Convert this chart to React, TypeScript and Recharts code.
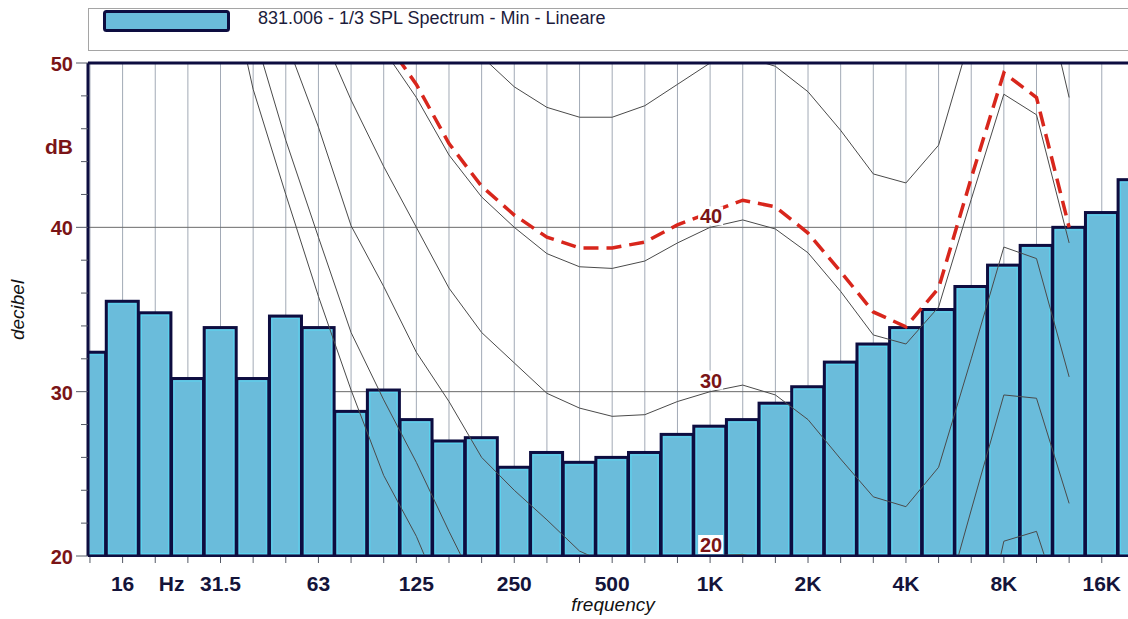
import React from 'react'
import {
  ComposedChart,
  Bar,
  Line,
  XAxis,
  YAxis,
  CartesianGrid,
  ReferenceLine,
  ReferenceDot,
} from 'recharts'

// 1/3 octave bands, 12.5 Hz .. 20 kHz
const bands = ['12.5', '16', '20', '25', '31.5', '40', '50', '63', '80', '100', '125', '160', '200', '250', '315', '400', '500', '630', '800', '1K', '1.25K', '1.6K', '2K', '2.5K', '3.15K', '4K', '5K', '6.3K', '8K', '10K', '12.5K', '16K', '20K']
const bandLabels = ['', '16', '', '', '31.5', '', '', '63', '', '', '125', '', '', '250', '', '', '500', '', '', '1K', '', '', '2K', '', '', '4K', '', '', '8K', '', '', '16K', '']

// measured spectrum (min, linear), dB
const splMin = [32.4, 35.5, 34.8, 30.8, 33.9, 30.8, 34.6, 33.9, 28.8, 30.1, 28.3, 27.0, 27.2, 25.4, 26.3, 25.7, 26.0, 26.3, 27.4, 27.9, 28.3, 29.3, 30.3, 31.8, 32.9, 33.9, 35.0, 36.4, 37.7, 38.9, 40.0, 40.9, 42.9]

// equal loudness contours (values outside 20..50 are estimates, clipped)
const phon0 = [93, 84, 75, 66, 57.3, 48.4, 42.0, 35.8, 30.1, 24.9, 21.2, 16.5, null, null, null, null, null, null, null, null, null, null, null, null, null, null, null, null, null, null, null, null, null]
const phon10 = [87, 80, 73, 66, 59, 52.0, 45.3, 39.4, 33.6, 29.5, 25.7, 21.5, 17.5, null, null, null, null, null, null, null, null, null, null, null, null, null, null, 12, 20.9, 21.5, 15.4, null, null]
const phon20 = [87, 81, 75, 69, 63, 57, 51.4, 46.1, 40.1, 36.4, 32.4, 29.4, 26.0, 24.0, 22.2, 20.3, 19.4, 19.0, 19.4, 20.0, 20.1, 19.6, 18.3, 16.0, 13.6, 13.0, 15.7, 22.8, 29.8, 29.6, 23.2, null, null]
const phon30 = [87, 82, 77, 72, 67, 62, 57, 52.3, 47.75, 43.7, 40.0, 36.3, 33.6, 31.75, 29.9, 29.0, 28.5, 28.6, 29.4, 30.0, 30.4, 29.8, 28.3, 25.9, 23.6, 23.0, 25.4, 32.0, 38.8, 38.1, 30.9, null, null]
const phon40 = [95, 90, 85, 80, 75, 70, 65, 60, 55, 50.8, 47.9, 44.4, 41.85, 40.0, 38.4, 37.6, 37.5, 37.95, 39.05, 40.0, 40.45, 39.9, 38.45, 36.1, 33.45, 32.9, 35.15, 41.7, 48.1, 46.85, 39.05, null, null]
const phon50 = [100, 96, 92, 88, 84, 80, 76, 72, 68, 62, 56, 53, 50.4, 48.55, 47.3, 46.7, 46.7, 47.4, 48.7, 50.0, 50.4, 49.8, 48.25, 45.9, 43.25, 42.7, 45.0, 51.8, 57.6, 56.4, 47.9, null, null]
// contour touching the spectrum (red dashed)
const tangentContour = [null, null, null, null, null, null, null, null, null, 51.5, 48.7, 45.1, 42.5, 40.75, 39.4, 38.75, 38.75, 39.1, 40.15, 40.9, 41.65, 41.25, 39.65, 37.3, 34.85, 33.95, 36.3, 43.0, 49.4, 47.9, 40.0, null, null]

const yTicks = [20, 22, 24, 26, 28, 30, 32, 34, 36, 38, 40, 42, 44, 46, 48, 50]
const gridValues = [30, 40]
const contourTags = [20, 30, 40]
const tagBand = 19
const hzPos = 2.5
const legendText = '831.006 - 1/3 SPL Spectrum - Min - Lineare'

const NAVY = '#0d0d40'
const FILL = '#6abcdb'
const DARK_RED = '#7a1416'
const FONT = '"Liberation Sans", Arial, sans-serif'

const data = bands.map((band, i) => ({
  i,
  band,
  spl: splMin[i],
  p0: phon0[i],
  p10: phon10[i],
  p20: phon20[i],
  p30: phon30[i],
  p40: phon40[i],
  p50: phon50[i],
  tangent: tangentContour[i],
}))

const contourKeys = ['p0', 'p10', 'p20', 'p30', 'p40', 'p50']
const bandTicks = bands.map((_, i) => i)

function XTick({ x, y, payload }: any) {
  const label = bandLabels[payload.value]
  return (
    <g>
      <line x1={x} x2={x} y1={y + 1} y2={y + 7} stroke="#555a66" strokeWidth={1} />
      {label ? (
        <text x={x} y={y + 35} textAnchor="middle" fontSize={21} fontWeight="bold" fill="#14143a" fontFamily={FONT}>
          {label}
        </text>
      ) : null}
    </g>
  )
}

function YTick({ x, y, payload }: any) {
  const major = payload.value % 10 === 0
  return (
    <g>
      <line x1={x - (major ? 12 : 7)} x2={x} y1={y} y2={y} stroke="#555a66" strokeWidth={1} />
      {major ? (
        <text x={x - 15} y={y + 8} textAnchor="end" fontSize={20} fontWeight="bold" fill={DARK_RED} fontFamily={FONT}>
          {payload.value}
        </text>
      ) : null}
    </g>
  )
}

function BandBar({ x, y, width, height }: any) {
  if (!width || !height) return null
  return (
    <g>
      <rect x={x} y={y} width={width} height={height} fill={FILL} stroke={NAVY} strokeWidth={3} />
      <rect x={x + 2.5} y={y + 2.5} width={Math.max(width - 5, 0)} height={Math.max(height - 5, 0)} fill="none" stroke="#5ad4f0" strokeWidth={1} />
    </g>
  )
}

function ContourTag({ cx, cy, text }: any) {
  return (
    <g>
      <rect x={cx - 12} y={cy - 21} width={25} height={19} fill="#ffffff" />
      <text x={cx + 1} y={cy - 4} textAnchor="middle" fontSize={20} fontWeight="bold" fill={DARK_RED} fontFamily={FONT}>
        {text}
      </text>
    </g>
  )
}

export default function App() {
  return (
    <div style={{ position: 'fixed', left: 0, top: 0, width: 1128, height: 619, overflow: 'hidden', background: '#fff', fontFamily: FONT }}>
      <div style={{ position: 'absolute', left: 0, top: 0 }}>
        <ComposedChart width={1164} height={619} data={data} margin={{ top: 63, right: 10, bottom: 0, left: 0 }}>
          <CartesianGrid horizontal={false} stroke="#a2aab6" strokeWidth={1} />
          <CartesianGrid vertical={false} horizontalValues={gridValues} stroke="#6a6a6a" strokeWidth={1} />
          <XAxis
            dataKey="i"
            type="number"
            domain={[-0.06, 32.6]}
            allowDataOverflow
            ticks={bandTicks}
            interval={0}
            height={63}
            tickSize={0}
            tickMargin={0}
            tickLine={false}
            axisLine={{ stroke: NAVY, strokeWidth: 2 }}
            tick={(p: any) => <XTick {...p} />}
          />
          <YAxis
            type="number"
            domain={[20, 50]}
            allowDataOverflow
            ticks={yTicks}
            interval={0}
            width={88}
            tickSize={0}
            tickMargin={0}
            tickLine={false}
            axisLine={{ stroke: NAVY, strokeWidth: 3 }}
            tick={(p: any) => <YTick {...p} />}
          />
          <Bar dataKey="spl" barSize={32} shape={(p: any) => <BandBar {...p} />} isAnimationActive={false} />
          {contourKeys.map(k => (
            <Line
              key={k}
              dataKey={k}
              type="linear"
              stroke="#4a4a4a"
              strokeWidth={1}
              dot={false}
              activeDot={false}
              connectNulls={false}
              isAnimationActive={false}
            />
          ))}
          <Line
            dataKey="tangent"
            type="linear"
            stroke="#d8261c"
            strokeWidth={3.5}
            strokeDasharray="15 8"
            dot={false}
            activeDot={false}
            isAnimationActive={false}
          />
          <ReferenceLine y={50} stroke={NAVY} strokeWidth={3} />
          {contourTags.map(v => (
            <ReferenceDot key={v} x={tagBand} y={v} r={0} shape={(p: any) => <ContourTag {...p} text={String(v)} />} />
          ))}
          <ReferenceDot
            x={hzPos}
            y={20}
            r={0}
            shape={(p: any) => (
              <text x={p.cx} y={p.cy + 35} textAnchor="middle" fontSize={21} fontWeight="bold" fill="#14143a" fontFamily={FONT}>
                Hz
              </text>
            )}
          />
        </ComposedChart>
      </div>
      <svg width={1128} height={619} style={{ position: 'absolute', left: 0, top: 0, pointerEvents: 'none' }}>
        <rect x={88.5} y={8.5} width={1060} height={42} fill="none" stroke="#a5a5a5" strokeWidth={1} />
        <rect x={104.5} y={11.5} width={124} height={19} rx={2} fill={FILL} stroke={NAVY} strokeWidth={3} />
        <text x={258} y={24} fontSize={18} fill="#1c1c3c" fontFamily={FONT}>{legendText}</text>
        <text x={73} y={154} textAnchor="end" fontSize={21} fontWeight="bold" fill={DARK_RED} fontFamily={FONT}>dB</text>
        <text transform="translate(24,310) rotate(-90)" textAnchor="middle" fontSize={19} fontStyle="italic" fill="#111" fontFamily={FONT}>decibel</text>
        <text x={613} y={611} textAnchor="middle" fontSize={19} fontStyle="italic" fill="#111" fontFamily={FONT}>frequency</text>
      </svg>
    </div>
  )
}
